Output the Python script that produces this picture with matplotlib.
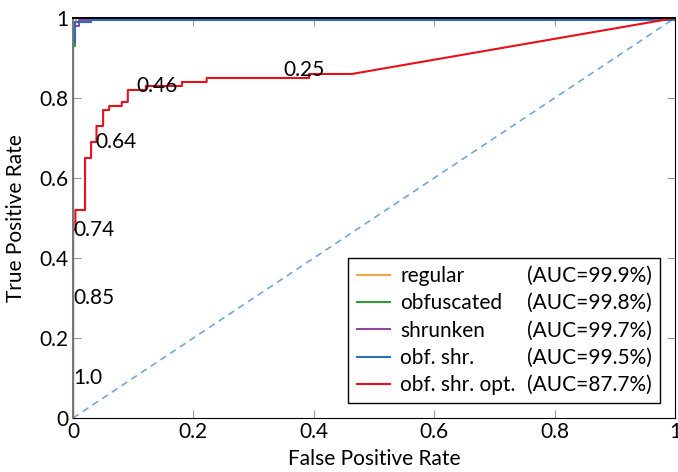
import matplotlib
matplotlib.use('Agg')
import matplotlib.pyplot as plt

plt.rcParams['font.family'] = ['Lato', 'DejaVu Sans']
plt.rcParams['font.size'] = 15

# ROC curves
reg_fpr = [0, 0, 0.005, 0.005, 1]
reg_tpr = [0, 0.99, 0.99, 1, 1]

obf_fpr = [0, 0, 0.004, 0.004, 0.03, 0.03, 1]
obf_tpr = [0, 0.93, 0.93, 0.99, 0.99, 1, 1]

shr_fpr = [0, 0, 0.01, 0.01, 0.03, 0.03, 1]
shr_tpr = [0, 0.98, 0.98, 0.995, 0.995, 1, 1]

os_fpr = [0, 0, 0.004, 0.004, 0.03, 0.03, 1, 1]
os_tpr = [0, 0.94, 0.94, 0.99, 0.99, 0.995, 0.995, 1]

oso_fpr = [0, 0, 0.004, 0.004, 0.02, 0.02, 0.03, 0.03, 0.039, 0.039, 0.05, 0.05,
           0.06, 0.06, 0.081, 0.081, 0.091, 0.091, 0.121, 0.121, 0.181, 0.181,
           0.222, 0.222, 0.392, 0.392, 0.463, 1]
oso_tpr = [0, 0.47, 0.47, 0.52, 0.52, 0.65, 0.65, 0.69, 0.69, 0.73, 0.73, 0.77,
           0.77, 0.78, 0.78, 0.79, 0.79, 0.82, 0.82, 0.83, 0.83, 0.84,
           0.84, 0.85, 0.85, 0.86, 0.86, 1]

names = ['regular', 'obfuscated', 'shrunken', 'obf. shr.', 'obf. shr. opt.']
aucs = ['(AUC=99.9%)', '(AUC=99.8%)', '(AUC=99.7%)', '(AUC=99.5%)', '(AUC=87.7%)']
colors = ['#f5a04a', '#2f9a3a', '#95459a', '#2a6ebd', '#e8101a']

# threshold annotations on the red curve
thr_labels = ['1.0', '0.85', '0.74', '0.64', '0.46', '0.25']
thr_x = [0.0, 0.0, 0.0, 0.037, 0.105, 0.349]
thr_y = [0.10, 0.30, 0.47, 0.69, 0.83, 0.87]

fig = plt.figure(figsize=(6.78, 4.72), dpi=100)
ax = fig.add_axes([0.1077, 0.1144, 0.8879, 0.8475])

ax.plot([0, 1], [0, 1], ls=(0, (4, 3)), color='#6fa8dc', lw=1.2)

curves = [(reg_fpr, reg_tpr), (obf_fpr, obf_tpr), (shr_fpr, shr_tpr),
          (os_fpr, os_tpr), (oso_fpr, oso_tpr)]
handles = []
for (fx, fy), c, n in zip(curves, colors, names):
    h, = ax.plot(fx, fy, color=c, lw=1.5, label=n)
    handles.append(h)

for t, x, y in zip(thr_labels, thr_x, thr_y):
    ax.text(x, y, t, ha='left', va='center')

ax.set_xlim(0, 1)
ax.set_ylim(0, 1)
ticks = [0, 0.2, 0.4, 0.6, 0.8, 1]
tick_labels = ['0', '0.2', '0.4', '0.6', '0.8', '1']
ax.set_xticks(ticks)
ax.set_xticklabels(tick_labels)
ax.set_yticks(ticks)
ax.set_yticklabels(tick_labels)
ax.tick_params(direction='in', length=6, color='#999999', top=True, right=True, pad=3)
ax.set_xlabel('False Positive Rate', labelpad=5)
ax.set_ylabel('True Positive Rate', labelpad=10)

for s in ['top', 'bottom', 'right']:
    ax.spines[s].set_color('black')
ax.spines['left'].set_color('#777777')
ax.spines['left'].set_linewidth(1.4)
ax.spines['top'].set_linewidth(1.4)

# second legend column holds AUC text with invisible handles
blank = [plt.Line2D([], [], color='none') for _ in aucs]
leg = ax.legend(handles + blank, names + aucs, ncol=2, loc='lower right',
                borderaxespad=0.7, fancybox=False, edgecolor='black', framealpha=1,
                handlelength=1.6, handletextpad=0.5, columnspacing=-1.55,
                labelspacing=0.35, borderpad=0.4)
leg.get_frame().set_linewidth(1.0)

fig.savefig('out.png', dpi=100)
